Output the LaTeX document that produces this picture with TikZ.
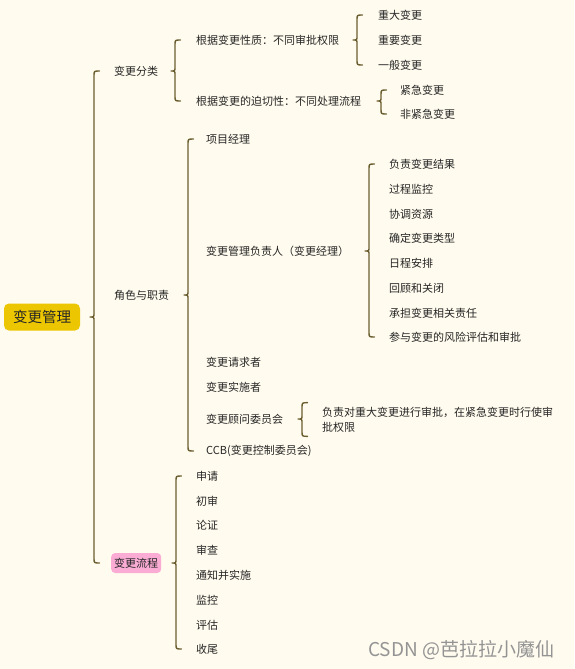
\documentclass[tikz,border=0pt]{standalone}
\usepackage{fontspec}
\setmainfont{Noto Sans CJK SC}
\usetikzlibrary{calc}

\definecolor{bg}{RGB}{255,251,238}
\definecolor{brclr}{RGB}{107,94,48}
\definecolor{rootclr}{RGB}{236,198,0}
\definecolor{flowclr}{RGB}{250,172,212}
\definecolor{txt}{RGB}{38,38,38}

% curly brace: #2 parent, #3 top end, #4 bottom end, #1 distance of the tip from the top end
\newcommand{\brc}[4][24]{%
  \coordinate (bt) at ($(#3 |- #2.east)+(-#1,0)$);
  \coordinate (bu) at (bt |- #3);
  \coordinate (bd) at (bt |- #4);
  \draw[brc] ($(bu)+(9.5,0)$) .. controls ($(bu)+(4,0)$) .. ($(bu)+(4,5)$)
    -- ($(bt)+(4,-4)$) .. controls ($(bt)+(4,0)$) .. (bt)
    .. controls ($(bt)+(4,0)$) .. ($(bt)+(4,4)$)
    -- ($(bd)+(4,-5)$) .. controls ($(bd)+(4,0)$) .. ($(bd)+(9.5,0)$);
}

\begin{document}
\begin{tikzpicture}[x=1pt, y=-1pt,
    item/.style={anchor=west, inner sep=0pt, text=txt, font=\fontsize{11}{15}\selectfont},
    brc/.style={draw=brclr, line width=1.4pt, line cap=round, line join=round}]
    \fill[bg] (0,0) rectangle (574,669);
    \useasboundingbox (0,0) rectangle (574,669);

    \node[fill=rootclr, rounded corners=5pt, minimum width=76pt, minimum height=27pt,
          inner sep=0pt, text=txt, font=\fontsize{14.5}{16}\selectfont] (root) at (42,317) {变更管理};

    % change classification
    \node[item] (cls) at (114,71) {变更分类};
    \node[item] (nature) at (196,40) {根据变更性质：不同审批权限};
    \node[item] (urgency) at (196,101) {根据变更的迫切性：不同处理流程};
    \node[item] (major) at (378,15) {重大变更};
    \node[item] (important) at (378,40) {重要变更};
    \node[item] (minor) at (378,65) {一般变更};
    \node[item] (urgent) at (400,90) {紧急变更};
    \node[item] (nonurgent) at (400,114) {非紧急变更};

    % roles
    \node[item] (role) at (114,295) {角色与职责};
    \node[item] (pm) at (206,139) {项目经理};
    \node[item] (cm) at (206,251) {变更管理负责人（变更经理）};
    \node[item] (cm1) at (389,164) {负责变更结果};
    \node[item] (cm2) at (389,189) {过程监控};
    \node[item] (cm3) at (389,214) {协调资源};
    \node[item] (cm4) at (389,238) {确定变更类型};
    \node[item] (cm5) at (389,263) {日程安排};
    \node[item] (cm6) at (389,288) {回顾和关闭};
    \node[item] (cm7) at (389,313) {承担变更相关责任};
    \node[item] (cm8) at (389,337) {参与变更的风险评估和审批};
    \node[item] (req) at (206,362) {变更请求者};
    \node[item] (impl) at (206,387) {变更实施者};
    \node[item] (cab) at (206,419) {变更顾问委员会};
    \node[item, inner ysep=4pt, align=left] (duty) at (322,419.5)
        {负责对重大变更进行审批，在紧急变更时行使审\\批权限};
    \node[item] (ccb) at (206,451) {CCB(变更控制委员会)};

    % process
    \node[item, fill=flowclr, rounded corners=4pt, inner xsep=3pt, minimum height=20pt] (flow) at (111,563) {变更流程};
    \node[item] (p1) at (196,476) {申请};
    \node[item] (p2) at (196,501) {初审};
    \node[item] (p3) at (196,525) {论证};
    \node[item] (p4) at (196,550) {审查};
    \node[item] (p5) at (196,575) {通知并实施};
    \node[item] (p6) at (196,600) {监控};
    \node[item] (p7) at (196,625) {评估};
    \node[item] (p8) at (196,649) {收尾};

    \node[anchor=west, inner sep=0pt, text=black!42, font=\fontsize{19}{21}\selectfont] (wm) at (368,650) {CSDN @芭拉拉小魔仙};

    \brc{root}{cls.west}{flow.west}
    \brc[25]{cls}{nature.west}{urgency.west}
    \brc[25]{nature}{major.west}{minor.west}
    \brc[23]{urgency}{urgent.west}{nonurgent.west}
    \brc[22]{role}{pm.west}{ccb.west}
    \brc{cm}{cm1.west}{cm8.west}
    \brc{cab}{duty.north west}{duty.south west}
    \brc{flow}{p1.west}{p8.west}
  \end{tikzpicture}
\end{document}
